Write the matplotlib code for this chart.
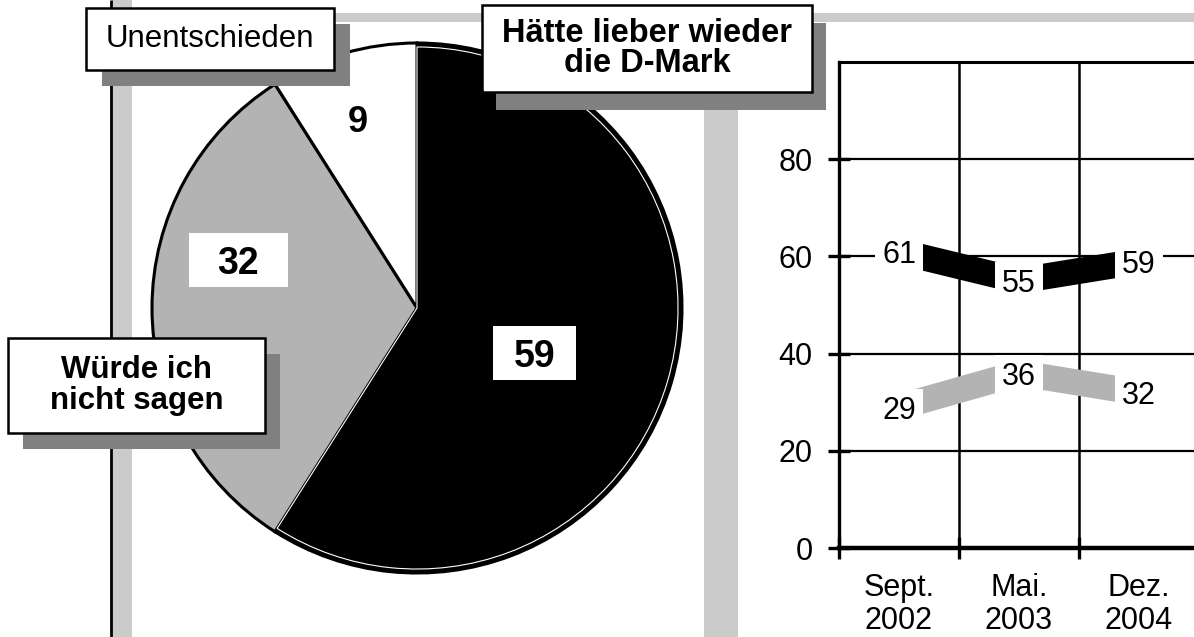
import matplotlib
matplotlib.use("Agg")
import matplotlib.pyplot as plt
from matplotlib.patches import Rectangle, Wedge

plt.rcParams['font.family'] = ['Liberation Sans', 'DejaVu Sans']

# ---------------- data ----------------
pie_labels = ["Hätte lieber wieder\ndie D-Mark", "Würde ich\nnicht sagen", "Unentschieden"]
pie_values = [59, 32, 9]
pie_colors = ["#000000", "#B3B3B3", "#FFFFFF"]

periods = ["Sept.\n2002", "Mai.\n2003", "Dez.\n2004"]
dmark_series = [61, 55, 59]
nicht_series = [29, 36, 32]
y_ticks = [0, 20, 40, 60, 80]

W, H = 1194, 637
fig = plt.figure(figsize=(W / 100, H / 100), dpi=100)
fig.patch.set_facecolor("white")

def px_rect(x, y, w, h):
    return [x / W, 1 - (y + h) / H, w / W, h / H]

FRAME = "#CBCBCB"
SHADOW = "#808080"

# ---------------- background frame ----------------
bg = fig.add_axes([0, 0, 1, 1], zorder=0)
bg.set_xlim(0, W); bg.set_ylim(H, 0); bg.axis("off")
bg.add_patch(Rectangle((112, 0), 20, H, color=FRAME, lw=0))
bg.add_patch(Rectangle((112, 13), W - 112, 9, color=FRAME, lw=0))
bg.add_patch(Rectangle((704, 13), 34, H, color=FRAME, lw=0))
bg.plot([110.5, 110.5], [0, H], color="black", lw=2.0, solid_capstyle="butt")

# ---------------- pie ----------------
cx, cy, r = 417, 308, 265
pax = fig.add_axes(px_rect(cx - r, cy - r, 2 * r, 2 * r), zorder=1)
wedges, _ = pax.pie(pie_values, colors=pie_colors, startangle=90, counterclock=False,
                    radius=1, wedgeprops=dict(edgecolor="black", linewidth=2.2))
pax.set_xlim(-1, 1); pax.set_ylim(-1, 1); pax.set_aspect("equal")
pax.patch.set_visible(False)
# thin white inner stroke on the black slice
w0 = wedges[0]
pax.add_patch(Wedge((0, 0), 0.985, w0.theta1, w0.theta2,
                    facecolor="none", edgecolor="white", lw=0.8, zorder=5))

# label layout: (x, y, box width, box height, fontsize) in pie units
value_layout = [(0.443, -0.170, 0.313, 0.204, 27),
                (-0.674, 0.181, 0.374, 0.204, 27),
                (-0.225, 0.715, 0.0, 0.0, 26)]
for (x, y, bw, bh, fs), v in zip(value_layout, pie_values):
    if bw > 0:
        pax.add_patch(Rectangle((x - bw / 2, y - bh / 2), bw, bh,
                                facecolor="white", edgecolor="none", zorder=6))
    pax.text(x, y, str(v), ha="center", va="center_baseline", fontsize=fs,
             fontweight="bold", zorder=7)

# ---------------- line chart ----------------
ax = fig.add_axes([839 / W, (H - 548) / H, 360 / W, 486 / H], zorder=2)
ax.patch.set_visible(False)
ax.set_xlim(0, 3); ax.set_ylim(0, 100)
xs = [i + 0.5 for i in range(len(periods))]

for y in [20, 40, 60, 80]:
    ax.axhline(y, color="black", lw=1.6, zorder=1)
for x in [1, 2]:
    ax.axvline(x, color="black", lw=1.8, zorder=1)

ax.spines["right"].set_visible(False)
ax.spines["left"].set_linewidth(2.4)
ax.spines["bottom"].set_linewidth(3.2)
ax.spines["top"].set_linewidth(2.2)
for s in ax.spines.values():
    s.set_zorder(4)

ax.set_yticks(y_ticks)
ax.set_yticklabels([str(t) for t in y_ticks], fontsize=22)
ax.tick_params(axis="y", direction="inout", length=16, width=2.4, pad=11)
ax.set_xticks([0, 1, 2, 3])
ax.set_xticklabels([])
ax.tick_params(axis="x", which="major", direction="inout", length=16, width=2.4)
ax.set_xticks(xs, minor=True)
ax.set_xticklabels(periods, minor=True, fontsize=22, linespacing=1.15)
ax.tick_params(axis="x", which="minor", length=0, pad=18)

ax.plot(xs, dmark_series, color="black", lw=18.7, solid_capstyle="butt", zorder=2)
ax.plot(xs, nicht_series, color="#B3B3B3", lw=18.7, solid_capstyle="butt", zorder=2)

for series in (dmark_series, nicht_series):
    for x, v in zip(xs, series):
        ax.text(x, v, str(v), ha="center", va="center_baseline", fontsize=22, zorder=5,
                bbox=dict(boxstyle="square,pad=0.22", facecolor="white", edgecolor="none"))

# ---------------- label boxes with shadows ----------------
fg = fig.add_axes([0, 0, 1, 1], zorder=20)
fg.set_xlim(0, W); fg.set_ylim(H, 0); fg.axis("off")
fg.patch.set_visible(False)

def label_box(x, y, w, h, text, bold, fs, dx=15, dy=16, ls=1.0):
    fg.add_patch(Rectangle((x + dx, y + dy), w, h, color=SHADOW, lw=0))
    fg.add_patch(Rectangle((x, y), w, h, facecolor="white", edgecolor="black", lw=1.8))
    fg.text(x + w / 2, y + h / 2, text, ha="center", va="center", fontsize=fs,
            fontweight="bold" if bold else "normal", linespacing=ls)

label_box(86, 8, 248, 62, pie_labels[2], False, 22.5, dx=16, dy=16)
label_box(482, 5, 330, 87, pie_labels[0], True, 23.5, dx=14, dy=18)
label_box(8, 338, 257, 95, pie_labels[1], True, 22.5, dx=15, dy=16)

fig.savefig("out.png", dpi=100)
